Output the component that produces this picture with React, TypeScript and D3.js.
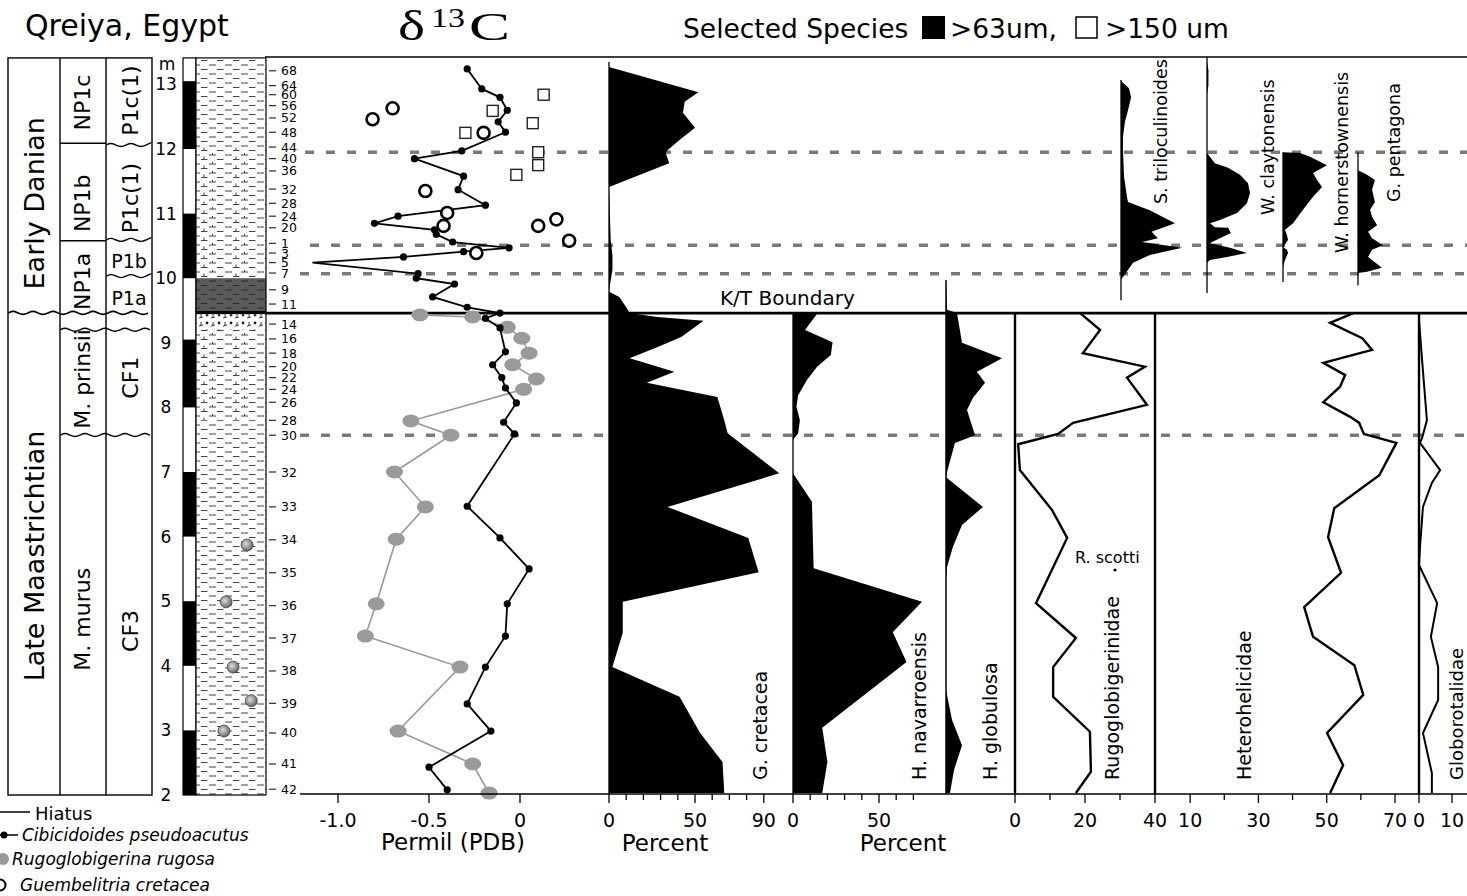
import React from "react";
import * as d3 from "d3";

const FONT = "'DejaVu Sans', Verdana, sans-serif";

// depth axis (m)
const depthTicks = [2, 3, 4, 5, 6, 7, 8, 9, 10, 11, 12, 13];
const meterBlack: [number, number][] = [[12, 13.05], [10, 11], [8, 9.05], [6, 7], [4, 5], [2, 3]];

// sample numbers and their depth
const sampleLabels = ["68", "64", "60", "56", "52", "48", "44", "40", "36", "32", "28", "24", "20", "1", "3", "5", "7", "9", "11",
  "14", "16", "18", "20", "22", "24", "26", "28", "30", "32", "33", "34", "35", "36", "37", "38", "39", "40", "41", "42"];
const sampleDepths = [13.21, 12.98, 12.84, 12.67, 12.48, 12.26, 12.03, 11.85, 11.66, 11.38, 11.16, 10.96, 10.78, 10.54, 10.39, 10.24, 10.08, 9.82, 9.6,
  9.29, 9.06, 8.84, 8.63, 8.46, 8.28, 8.08, 7.8, 7.57, 7.0, 6.46, 5.95, 5.44, 4.93, 4.43, 3.92, 3.42, 2.96, 2.48, 2.09];

// zones
const stageNames = ["Early Danian", "Late Maastrichtian"];
const stageLabelAt = [11.16, 5.7];
const nannoNames = ["NP1c", "NP1b", "NP1a", "M. prinsii", "M. murus"];
const nannoLabelAt = [12.72, 11.16, 9.95, 8.44, 4.72];
const foramNames = ["P1c(1)", "P1c(1)", "P1b", "P1a", "CF1", "CF3"];
const foramLabelAt = [12.75, 11.24, 10.27, 9.7, 8.46, 4.54];
const foramRotated = [true, true, false, false, true, true];
const nannoBreaks = [12.09, 10.58];
const wavyBreaks = [9.2, 7.57];
const foramWavy = [12.06, 10.59, 10.03];

// lithology
const litTop = [13.41, 12.03, 10.0, 9.5, 9.44, 9.2, 7.8];
const litBase = [12.03, 10.0, 9.5, 9.44, 9.2, 7.8, 2.0];
const litType = ["shale", "marl", "clay", "black", "fossil", "marl", "shale"];
const fossilDepth = [5.87, 4.99, 3.98, 3.46, 2.99];
const fossilAcross = [0.73, 0.43, 0.53, 0.79, 0.4];

// d13C, Cibicidoides pseudoacutus
const cibDepth = [13.24, 12.93, 12.8, 12.6, 12.42, 12.26, 11.97, 11.85, 11.58, 11.37, 11.13, 10.96, 10.85, 10.75, 10.68, 10.56, 10.47, 10.41, 10.33, 10.24,
  10.07, 10.0, 9.91, 9.71, 9.55, 9.46, 9.38, 9.23, 8.86, 8.66, 8.46, 8.3, 8.07, 7.77, 7.59, 6.47, 5.98, 5.5, 4.96, 4.46, 3.98, 3.41, 2.99, 2.43, 2.08];
const cibValue = [-0.29, -0.21, -0.11, -0.07, -0.12, -0.08, -0.32, -0.58, -0.31, -0.34, -0.19, -0.67, -0.8, -0.47, -0.46, -0.37, -0.06, -0.31, -0.64, -1.14,
  -0.56, -0.57, -0.36, -0.48, -0.29, -0.11, -0.19, -0.11, -0.08, -0.15, -0.1, -0.08, -0.02, -0.09, -0.03, -0.29, -0.11, 0.05, -0.07, -0.08, -0.19, -0.29, -0.16, -0.5, -0.4];
// Rugoglobigerina rugosa
const rugDepth = [9.43, 9.4, 9.24, 9.07, 8.84, 8.66, 8.44, 8.28, 7.79, 7.57, 7.0, 6.46, 5.96, 4.96, 4.46, 3.98, 2.99, 2.48, 2.03];
const rugValue = [-0.55, -0.26, -0.07, 0.01, 0.05, -0.04, 0.09, 0.02, -0.6, -0.38, -0.69, -0.52, -0.68, -0.79, -0.85, -0.33, -0.67, -0.26, -0.17];
// Guembelitria cretacea
const gueDepth = [12.46, 12.63, 12.25, 11.35, 11.01, 10.81, 10.39, 10.81, 10.91, 10.58];
const gueValue = [-0.81, -0.7, -0.2, -0.52, -0.4, -0.42, -0.24, 0.1, 0.2, 0.27];
// >150 um squares
const sqDepth = [12.84, 12.59, 12.4, 12.25, 11.95, 11.75, 11.6];
const sqValue = [0.13, -0.15, 0.07, -0.3, 0.1, 0.1, -0.02];

// percent profiles
const gcrDepth = [13.27, 12.88, 12.73, 12.56, 12.33, 12.14, 11.98, 11.94, 11.78, 11.41, 10.59, 10.36, 10.13, 9.89, 9.79, 9.71, 9.55, 9.46, 9.4, 9.34,
  9.09, 8.93, 8.76, 8.55, 8.38, 8.16, 7.8, 7.6, 6.98, 6.46, 5.98, 5.45, 4.99, 4.51, 3.98, 3.52, 2.96, 2.51, 2.03];
const gcrValue = [0, 52, 44, 43, 50, 41, 34, 33, 35, 0, 1, 2, 2, 0.5, 0, 6, 10, 12, 28, 55,
  42, 28, 12, 38, 22, 63, 67, 69, 99, 34, 81, 87, 8, 8, 2, 41, 53, 66, 67];
const hnaDepth = [9.45, 9.2, 9.01, 8.81, 8.63, 8.42, 8.19, 8.01, 7.8, 7.6, 7.5, 6.98, 6.54, 5.51, 4.99, 4.52, 4.06, 3.04, 2.51, 2.03];
const hnaValue = [14, 7, 23, 22, 14, 8, 3, 2, 4, 3, 0, 0, 11, 12, 75, 58, 66, 17, 20, 17];
const hglDepth = [9.97, 9.51, 9.46, 9.0, 8.76, 8.55, 8.38, 8.15, 7.96, 7.57, 7.45, 7.0, 6.92, 6.46, 6.18, 5.84, 5.53, 5.33, 3.63, 3.16, 2.77, 2.39, 2.03];
const hglValue = [0, 0.6, 6.4, 9.3, 32.6, 18, 22.7, 15.7, 12.2, 16.9, 5.2, 0.6, 0, 21.5, 9.3, 4, 0.6, 0, 0, 3.5, 9.3, 4.7, 2.3];
const rgbDepth = [9.46, 9.2, 8.84, 8.63, 8.46, 8.04, 7.76, 7.59, 7.43, 7.03, 6.41, 5.98, 4.97, 4.43, 3.98, 3.52, 2.98, 2.36, 2.03];
const rgbValue = [18.6, 24.3, 19.4, 37.1, 32, 37.7, 16.6, 12.3, 0.9, 1.4, 10.6, 14.9, 6, 17.4, 10.9, 10.9, 21.4, 21.7, 17.4];
const hetDepth = [9.46, 9.31, 9.07, 8.89, 8.69, 8.5, 8.32, 8.08, 7.85, 7.76, 7.59, 7.45, 6.95, 6.44, 5.99, 5.44, 4.91, 4.45, 4.01, 3.55, 2.96, 2.46, 2.03];
const hetValue = [57.8, 51, 60.4, 63.3, 49, 55.4, 53.9, 49, 57, 59.5, 60.9, 70.4, 65.4, 52.2, 50.4, 54.2, 43.4, 46, 58.1, 60.7, 50.1, 54.8, 51];
const glbDepth = [9.46, 9.35, 8.69, 7.8, 7.54, 7.45, 7.03, 6.83, 6.46, 5.84, 5.56, 4.97, 4.45, 3.98, 3.47, 2.96, 2.34, 2.03];
const glbValue = [0, 0, 1, 2.4, 1, 0.3, 6.4, 3.9, 1.2, 0.3, 0, 5.5, 3.6, 5.8, 5.8, 1.2, 3.9, 3.9];

// selected Danian species
const striDepth = [13.07, 13.04, 12.94, 12.8, 12.6, 12.42, 12.19, 11.98, 11.57, 11.26, 11.18, 11.05, 10.85, 10.72, 10.62, 10.56, 10.47, 10.36, 10.24, 10.02, 9.98];
const striValue = [0, 0.5, 4.4, 5.6, 3.9, 2.2, 1.1, 1.1, 1.7, 3.3, 3.9, 16, 30, 17, 20.5, 11.7, 34, 16, 6.7, 1.1, 0];
const wclDepth = [13.35, 13.22, 12.99, 12.84, 11.94, 11.78, 11.71, 11.6, 11.47, 11.32, 11.16, 11.01, 10.9, 10.85, 10.79, 10.78, 10.7, 10.64, 10.56, 10.54, 10.47, 10.39, 10.33, 10.28, 10.24];
const wclValue = [0, 0.8, 0.8, 0, 0, 4.4, 11.7, 18.3, 22.8, 23.9, 22.2, 16.7, 7.2, 1.7, 4.4, 11.7, 13.3, 8.9, 2.8, 1.7, 12.8, 22.2, 11.1, 1.7, 0];
const whoDepth = [11.95, 11.94, 11.88, 11.75, 11.63, 11.52, 11.41, 11.26, 11.06, 10.85, 10.75, 10.67, 10.59, 10.48, 10.44, 10.39, 10.28, 10.17];
const whoValue = [0, 9.4, 15, 24.4, 16.7, 18.9, 21.7, 16.7, 11.1, 5.6, 1.1, 2.2, 2.8, 0, 2.2, 2.8, 1.1, 0];
const gpeDepth = [11.67, 11.6, 11.52, 11.37, 11.18, 11.06, 10.95, 10.82, 10.72, 10.62, 10.51, 10.44, 10.33, 10.16, 10.1, 10.08];
const gpeValue = [0, 5, 9.4, 7.8, 9.4, 6.7, 7.8, 10.6, 5.6, 7.8, 13.9, 7.8, 5.6, 13.3, 5, 0];

const speciesNames = ["S. triloculinoides", "W. claytonensis", "W. hornerstownensis", "G. pentagona"];
const speciesRange: [number, number][] = [[13.07, 9.66], [13.42, 9.77], [11.95, 9.94], [11.95, 9.89]];

const dashedDepths = [11.95, 10.51, 10.07, 7.57];
const ktDepth = 9.46;

type P = [number, number];
const zip = (d: number[], v: number[]): P[] => d.map((m, i) => [m, v[i]]);

export default function App() {
  const y = d3.scaleLinear().domain([2, 13]).range([795, 84.4]);
  const yTop = y(13.41);
  const axisY = 794;

  const xC = d3.scaleLinear().domain([-1, 0]).range([338, 520]);
  const xGcr = d3.scaleLinear().domain([0, 50]).range([609, 695]);
  const xHna = d3.scaleLinear().domain([0, 50]).range([793, 879]);
  const xHgl = d3.scaleLinear().domain([0, 50]).range([946, 1032]);
  const xRgb = d3.scaleLinear().domain([0, 40]).range([1015, 1155]);
  const xHet = d3.scaleLinear().domain([0, 70]).range([1156, 1395]);
  const xGlb = d3.scaleLinear().domain([0, 10]).range([1419, 1452]);
  const spX0 = [1121, 1207, 1283, 1358];
  const spScales = spX0.map((x0) => d3.scaleLinear().domain([0, 50]).range([x0, x0 + 90]));
  const spData = [zip(striDepth, striValue), zip(wclDepth, wclValue), zip(whoDepth, whoValue), zip(gpeDepth, gpeValue)];

  const areaFor = (sx: d3.ScaleLinear<number, number>) =>
    d3.area<P>().y((p) => y(p[0])).x0(sx(0)).x1((p) => sx(p[1]));
  const lineFor = (sx: d3.ScaleLinear<number, number>) => d3.line<P>().x((p) => sx(p[1])).y((p) => y(p[0]));

  const wavy = (x0: number, x1: number, yy: number) => {
    const pts: P[] = [];
    for (let x = x0, i = 0; x <= x1 + 0.1; x += 5, i++) pts.push([x, yy + (i % 4 === 1 ? -2.5 : i % 4 === 3 ? 2 : 0)]);
    return d3.line().curve(d3.curveBasis)(pts) || "";
  };

  const cib = zip(cibDepth, cibValue);
  const rug = zip(rugDepth, rugValue);

  const col = { c0: 8, c1: 60, c2: 106, c3: 152, mb0: 183, mb1: 196, l1: 266 };
  const yBot = y(2);

  const axisTicks = (sx: d3.ScaleLinear<number, number>, ticks: number[], labels: number[], fmt = (v: number) => String(v)) => (
    <g>
      {ticks.map((t) => (
        <line key={"t" + t} x1={sx(t)} x2={sx(t)} y1={axisY} y2={axisY + (labels.includes(t) ? 9 : 6)} stroke="#000" strokeWidth={1.3} />
      ))}
      {labels.map((t) => (
        <text key={"l" + t} x={sx(t)} y={827} textAnchor="middle" fontSize={19} fontFamily={FONT}>{fmt(t)}</text>
      ))}
    </g>
  );

  const rotLabel = (text: string, cx: number, bottom: number, size = 19) => (
    <text transform={`translate(${cx},${bottom}) rotate(-90)`} textAnchor="start" dominantBaseline="central" fontSize={size} fontFamily={FONT}>{text}</text>
  );

  return (
    <svg width={1467} height={896} style={{ position: "absolute", left: 0, top: 0, background: "#fff" }}>
      <defs>
        <pattern id="shale" width="16" height="9" patternUnits="userSpaceOnUse">
          <rect width="16" height="9" fill="#fff" />
          <line x1="1" y1="2" x2="8" y2="2" stroke="#444" strokeWidth="1" />
          <line x1="9" y1="6.5" x2="15.5" y2="6.5" stroke="#444" strokeWidth="1" />
        </pattern>
        <pattern id="marl" width="32" height="9" patternUnits="userSpaceOnUse">
          <rect width="32" height="9" fill="#fff" />
          <line x1="1" y1="2" x2="8" y2="2" stroke="#444" strokeWidth="1" />
          <line x1="17" y1="2" x2="24" y2="2" stroke="#444" strokeWidth="1" />
          <line x1="9" y1="6.5" x2="15.5" y2="6.5" stroke="#444" strokeWidth="1" />
          <line x1="25" y1="6.5" x2="31.5" y2="6.5" stroke="#444" strokeWidth="1" />
          <line x1="12" y1="3.5" x2="12" y2="6.5" stroke="#444" strokeWidth="1" />
          <line x1="20.5" y1="-1" x2="20.5" y2="2" stroke="#444" strokeWidth="1" />
        </pattern>
        <pattern id="clay" width="16" height="9" patternUnits="userSpaceOnUse">
          <rect width="16" height="9" fill="#5a5a5a" />
          <line x1="1" y1="2" x2="8" y2="2" stroke="#2a2a2a" strokeWidth="1" />
          <line x1="9" y1="6.5" x2="15.5" y2="6.5" stroke="#2a2a2a" strokeWidth="1" />
        </pattern>
        <pattern id="fossil" width="12" height="8" patternUnits="userSpaceOnUse">
          <rect width="12" height="8" fill="#fff" />
          <circle cx="3" cy="3" r="1.4" fill="#222" />
          <line x1="7" y1="6" x2="11" y2="5" stroke="#333" strokeWidth="1" />
          <line x1="9" y1="2" x2="9" y2="5" stroke="#333" strokeWidth="1" />
        </pattern>
        <radialGradient id="amm" cx="0.4" cy="0.4" r="0.6">
          <stop offset="0" stopColor="#ddd" />
          <stop offset="1" stopColor="#666" />
        </radialGradient>
      </defs>

      {/* titles */}
      <text x={25} y={36} fontSize={30} fontFamily={FONT}>Qreiya, Egypt</text>
      <g fontFamily="'Liberation Serif', 'DejaVu Serif', serif">
        <text x={398} y={40} fontSize={42} textLength={27} lengthAdjust="spacingAndGlyphs">δ</text>
        <text x={431} y={27} fontSize={28} textLength={34} lengthAdjust="spacingAndGlyphs">13</text>
        <text x={469} y={40} fontSize={40} textLength={41} lengthAdjust="spacingAndGlyphs">C</text>
      </g>
      <text x={683} y={38} fontSize={26.5} fontFamily={FONT}>Selected Species</text>
      <rect x={922} y={16} width={23} height={23} fill="#000" />
      <text x={950} y={38} fontSize={26.5} fontFamily={FONT}>&gt;63um,</text>
      <rect x={1076} y={17} width={21} height={21} fill="#fff" stroke="#000" strokeWidth={1.5} />
      <text x={1105} y={38} fontSize={26.5} fontFamily={FONT}>&gt;150 um</text>

      {/* stratigraphic columns */}
      <g fill="none" stroke="#000" strokeWidth={1.4}>
        <rect x={col.c0} y={yTop} width={col.c3 - col.c0} height={yBot - yTop} />
        <line x1={col.c1} x2={col.c1} y1={yTop} y2={yBot} />
        <line x1={col.c2} x2={col.c2} y1={yTop} y2={yBot} />
        <path d={wavy(col.c0, col.c3, y(ktDepth))} strokeWidth={1.6} />
        {nannoBreaks.map((m) => <line key={m} x1={col.c1} x2={col.c2} y1={y(m)} y2={y(m)} />)}
        {wavyBreaks.map((m) => <path key={m} d={wavy(col.c1, col.c3, y(m))} />)}
        {foramWavy.map((m) => <path key={m} d={wavy(col.c2, col.c3, y(m))} />)}
      </g>
      {stageNames.map((s, i) => (
        <text key={s} transform={`translate(34,${y(stageLabelAt[i])}) rotate(-90)`} textAnchor="middle" dominantBaseline="central" fontSize={27} fontFamily={FONT}>{s}</text>
      ))}
      {nannoNames.map((s, i) => (
        <text key={s + i} transform={`translate(82,${y(nannoLabelAt[i])}) rotate(-90)`} textAnchor="middle" dominantBaseline="central" fontSize={22} fontFamily={FONT}>{s}</text>
      ))}
      {foramNames.map((s, i) =>
        foramRotated[i] ? (
          <text key={s + i} transform={`translate(130,${y(foramLabelAt[i])}) rotate(-90)`} textAnchor="middle" dominantBaseline="central" fontSize={22} fontFamily={FONT}>{s}</text>
        ) : (
          <text key={s + i} x={129} y={y(foramLabelAt[i])} textAnchor="middle" dominantBaseline="central" fontSize={19} fontFamily={FONT}>{s}</text>
        )
      )}

      {/* metre scale */}
      <text x={167} y={70} textAnchor="middle" fontSize={17} fontFamily={FONT}>m</text>
      {depthTicks.map((t) => (
        <text key={t} x={166} y={y(t)} textAnchor="middle" dominantBaseline="central" fontSize={17} fontFamily={FONT}>{t}</text>
      ))}
      <rect x={col.mb0} y={yTop} width={col.mb1 - col.mb0} height={yBot - yTop} fill="#fff" stroke="#000" strokeWidth={1.2} />
      {meterBlack.map(([a, b]) => (
        <rect key={a} x={col.mb0} y={y(b)} width={col.mb1 - col.mb0} height={y(a) - y(b)} fill="#000" />
      ))}

      {/* lithology */}
      {litType.map((t, i) =>
        t === "black" ? (
          <rect key={i} x={col.mb1} y={y(litTop[i])} width={col.l1 - col.mb1} height={y(litBase[i]) - y(litTop[i])} fill="#000" />
        ) : (
          <rect key={i} x={col.mb1} y={y(litTop[i])} width={col.l1 - col.mb1} height={y(litBase[i]) - y(litTop[i])} fill={`url(#${t})`} />
        )
      )}
      <rect x={col.mb1} y={yTop} width={col.l1 - col.mb1} height={yBot - yTop} fill="none" stroke="#000" strokeWidth={1.2} />
      {fossilDepth.map((m, i) => (
        <circle key={i} cx={col.mb1 + fossilAcross[i] * (col.l1 - col.mb1)} cy={y(m)} r={6} fill="url(#amm)" stroke="#444" strokeWidth={0.8} />
      ))}

      {/* sample numbers */}
      {sampleLabels.map((s, i) => (
        <g key={i}>
          <line x1={269} x2={276} y1={y(sampleDepths[i])} y2={y(sampleDepths[i])} stroke="#000" strokeWidth={1} />
          <text x={281} y={y(sampleDepths[i])} dominantBaseline="central" fontSize={12.5} fontFamily={FONT}>{s}</text>
        </g>
      ))}

      {/* frame line */}
      <line x1={265} x2={1467} y1={57} y2={57} stroke="#000" strokeWidth={1.5} />

      {/* dashed correlation lines */}
      {dashedDepths.map((m, i) => (
        <line key={m} x1={[305, 310, 300, 300][i]} x2={1467} y1={y(m)} y2={y(m)} stroke="#7a7a7a" strokeWidth={3.5} strokeDasharray="9 12" />
      ))}

      {/* percent fills */}
      <path d={areaFor(xGcr)(zip(gcrDepth, gcrValue)) || ""} fill="#000" />
      <path d={areaFor(xHna)(zip(hnaDepth, hnaValue)) || ""} fill="#000" />
      <path d={areaFor(xHgl)(zip(hglDepth, hglValue)) || ""} fill="#000" />
      {spData.map((d, i) => (
        <g key={i}>
          <path d={areaFor(spScales[i])(d) || ""} fill="#000" />
          <line x1={spX0[i]} x2={spX0[i]} y1={y(speciesRange[i][0])} y2={y(speciesRange[i][1])} stroke="#000" strokeWidth={1.3} />
        </g>
      ))}

      {/* panel baselines */}
      <line x1={609} x2={609} y1={62} y2={axisY} stroke="#000" strokeWidth={1.3} />
      <line x1={793} x2={793} y1={y(ktDepth)} y2={axisY} stroke="#000" strokeWidth={1.3} />
      <line x1={946} x2={946} y1={280} y2={axisY} stroke="#000" strokeWidth={1.5} />
      <line x1={1015} x2={1015} y1={y(ktDepth)} y2={axisY} stroke="#000" strokeWidth={2.4} />
      <line x1={1155} x2={1155} y1={y(ktDepth)} y2={axisY} stroke="#000" strokeWidth={2.4} />
      <line x1={1419} x2={1419} y1={y(ktDepth)} y2={axisY} stroke="#000" strokeWidth={2.4} />

      {/* family lines */}
      <path d={lineFor(xRgb)(zip(rgbDepth, rgbValue)) || ""} fill="none" stroke="#000" strokeWidth={2.4} />
      <path d={lineFor(xHet)(zip(hetDepth, hetValue)) || ""} fill="none" stroke="#000" strokeWidth={2.4} />
      <path d={lineFor(xGlb)(zip(glbDepth, glbValue)) || ""} fill="none" stroke="#000" strokeWidth={2} />

      {/* K/T boundary */}
      <line x1={265} x2={1467} y1={y(ktDepth)} y2={y(ktDepth)} stroke="#000" strokeWidth={2.6} />
      <text x={720} y={305} fontSize={20} fontFamily={FONT}>K/T Boundary</text>

      {/* d13C */}
      <path d={lineFor(xC)(rug) || ""} fill="none" stroke="#999" strokeWidth={1.6} />
      {rug.map((p, i) => (
        <ellipse key={i} cx={xC(p[1])} cy={y(p[0])} rx={8.5} ry={6.5} fill="#9a9a9a" />
      ))}
      <path d={lineFor(xC)(cib) || ""} fill="none" stroke="#000" strokeWidth={1.8} />
      {cib.map((p, i) => (i === 19 ? null : <circle key={i} cx={xC(p[1])} cy={y(p[0])} r={3.6} fill="#000" />))}
      {zip(gueDepth, gueValue).map((p, i) => (
        <circle key={i} cx={xC(p[1])} cy={y(p[0])} r={6} fill="#fff" stroke="#000" strokeWidth={2.6} />
      ))}
      {zip(sqDepth, sqValue).map((p, i) => (
        <rect key={i} x={xC(p[1]) - 5.5} y={y(p[0]) - 5.5} width={11} height={11} fill="#fff" stroke="#222" strokeWidth={1.4} />
      ))}

      {/* bottom axis */}
      <line x1={300} x2={1467} y1={axisY} y2={axisY} stroke="#000" strokeWidth={1.5} />
      {axisTicks(xC, [-1, -0.5, 0], [-1, -0.5, 0], (v) => (v === 0 ? "0" : v.toFixed(1)))}
      {axisTicks(xGcr, d3.range(0, 100, 10), [0, 50, 90])}
      {axisTicks(xHna, d3.range(0, 80, 10), [0, 50])}
      {axisTicks(xRgb, [0, 10, 20, 30, 40], [0, 20, 40])}
      {axisTicks(xHet, [10, 20, 30, 40, 50, 60, 70], [10, 30, 50, 70])}
      {axisTicks(xGlb, [0, 10], [0, 10])}
      <text x={453} y={850} textAnchor="middle" fontSize={23} fontFamily={FONT}>Permil (PDB)</text>
      <text x={665} y={851} textAnchor="middle" fontSize={23} fontFamily={FONT}>Percent</text>
      <text x={903} y={851} textAnchor="middle" fontSize={23} fontFamily={FONT}>Percent</text>

      {/* panel labels */}
      {rotLabel("G. cretacea", 760, 780)}
      {rotLabel("H. navarroensis", 919, 780)}
      {rotLabel("H. globulosa", 990, 780)}
      {rotLabel("Rugoglobigerinidae", 1112, 780)}
      {rotLabel("Heterohelicidae", 1244, 780)}
      {rotLabel("Globorotalidae", 1456, 780, 18)}
      {rotLabel(speciesNames[0], 1161, 204, 17.5)}
      {rotLabel(speciesNames[1], 1268, 215, 17.5)}
      {rotLabel(speciesNames[2], 1342, 253, 17.5)}
      {rotLabel(speciesNames[3], 1394, 202, 17.5)}
      <text x={1075} y={563} fontSize={16} fontFamily={FONT}>R. scotti</text>
      <circle cx={1115} cy={570} r={1.6} fill="#000" />

      {/* legend */}
      <line x1={0} x2={30} y1={812} y2={812} stroke="#000" strokeWidth={1.5} />
      <text x={35} y={820} fontSize={18} fontFamily={FONT}>Hiatus</text>
      <line x1={0} x2={18} y1={835} y2={835} stroke="#000" strokeWidth={1.5} />
      <circle cx={4} cy={835} r={3.5} fill="#000" />
      <text x={22} y={841} fontSize={17} fontStyle="italic" fontFamily={FONT}>Cibicidoides pseudoacutus</text>
      <circle cx={3} cy={859} r={6} fill="#999" />
      <text x={12} y={865} fontSize={17} fontStyle="italic" fontFamily={FONT}>Rugoglobigerina rugosa</text>
      <circle cx={0} cy={885} r={5.5} fill="#fff" stroke="#000" strokeWidth={2} />
      <text x={20} y={891} fontSize={17} fontStyle="italic" fontFamily={FONT}>Guembelitria cretacea</text>
    </svg>
  );
}
